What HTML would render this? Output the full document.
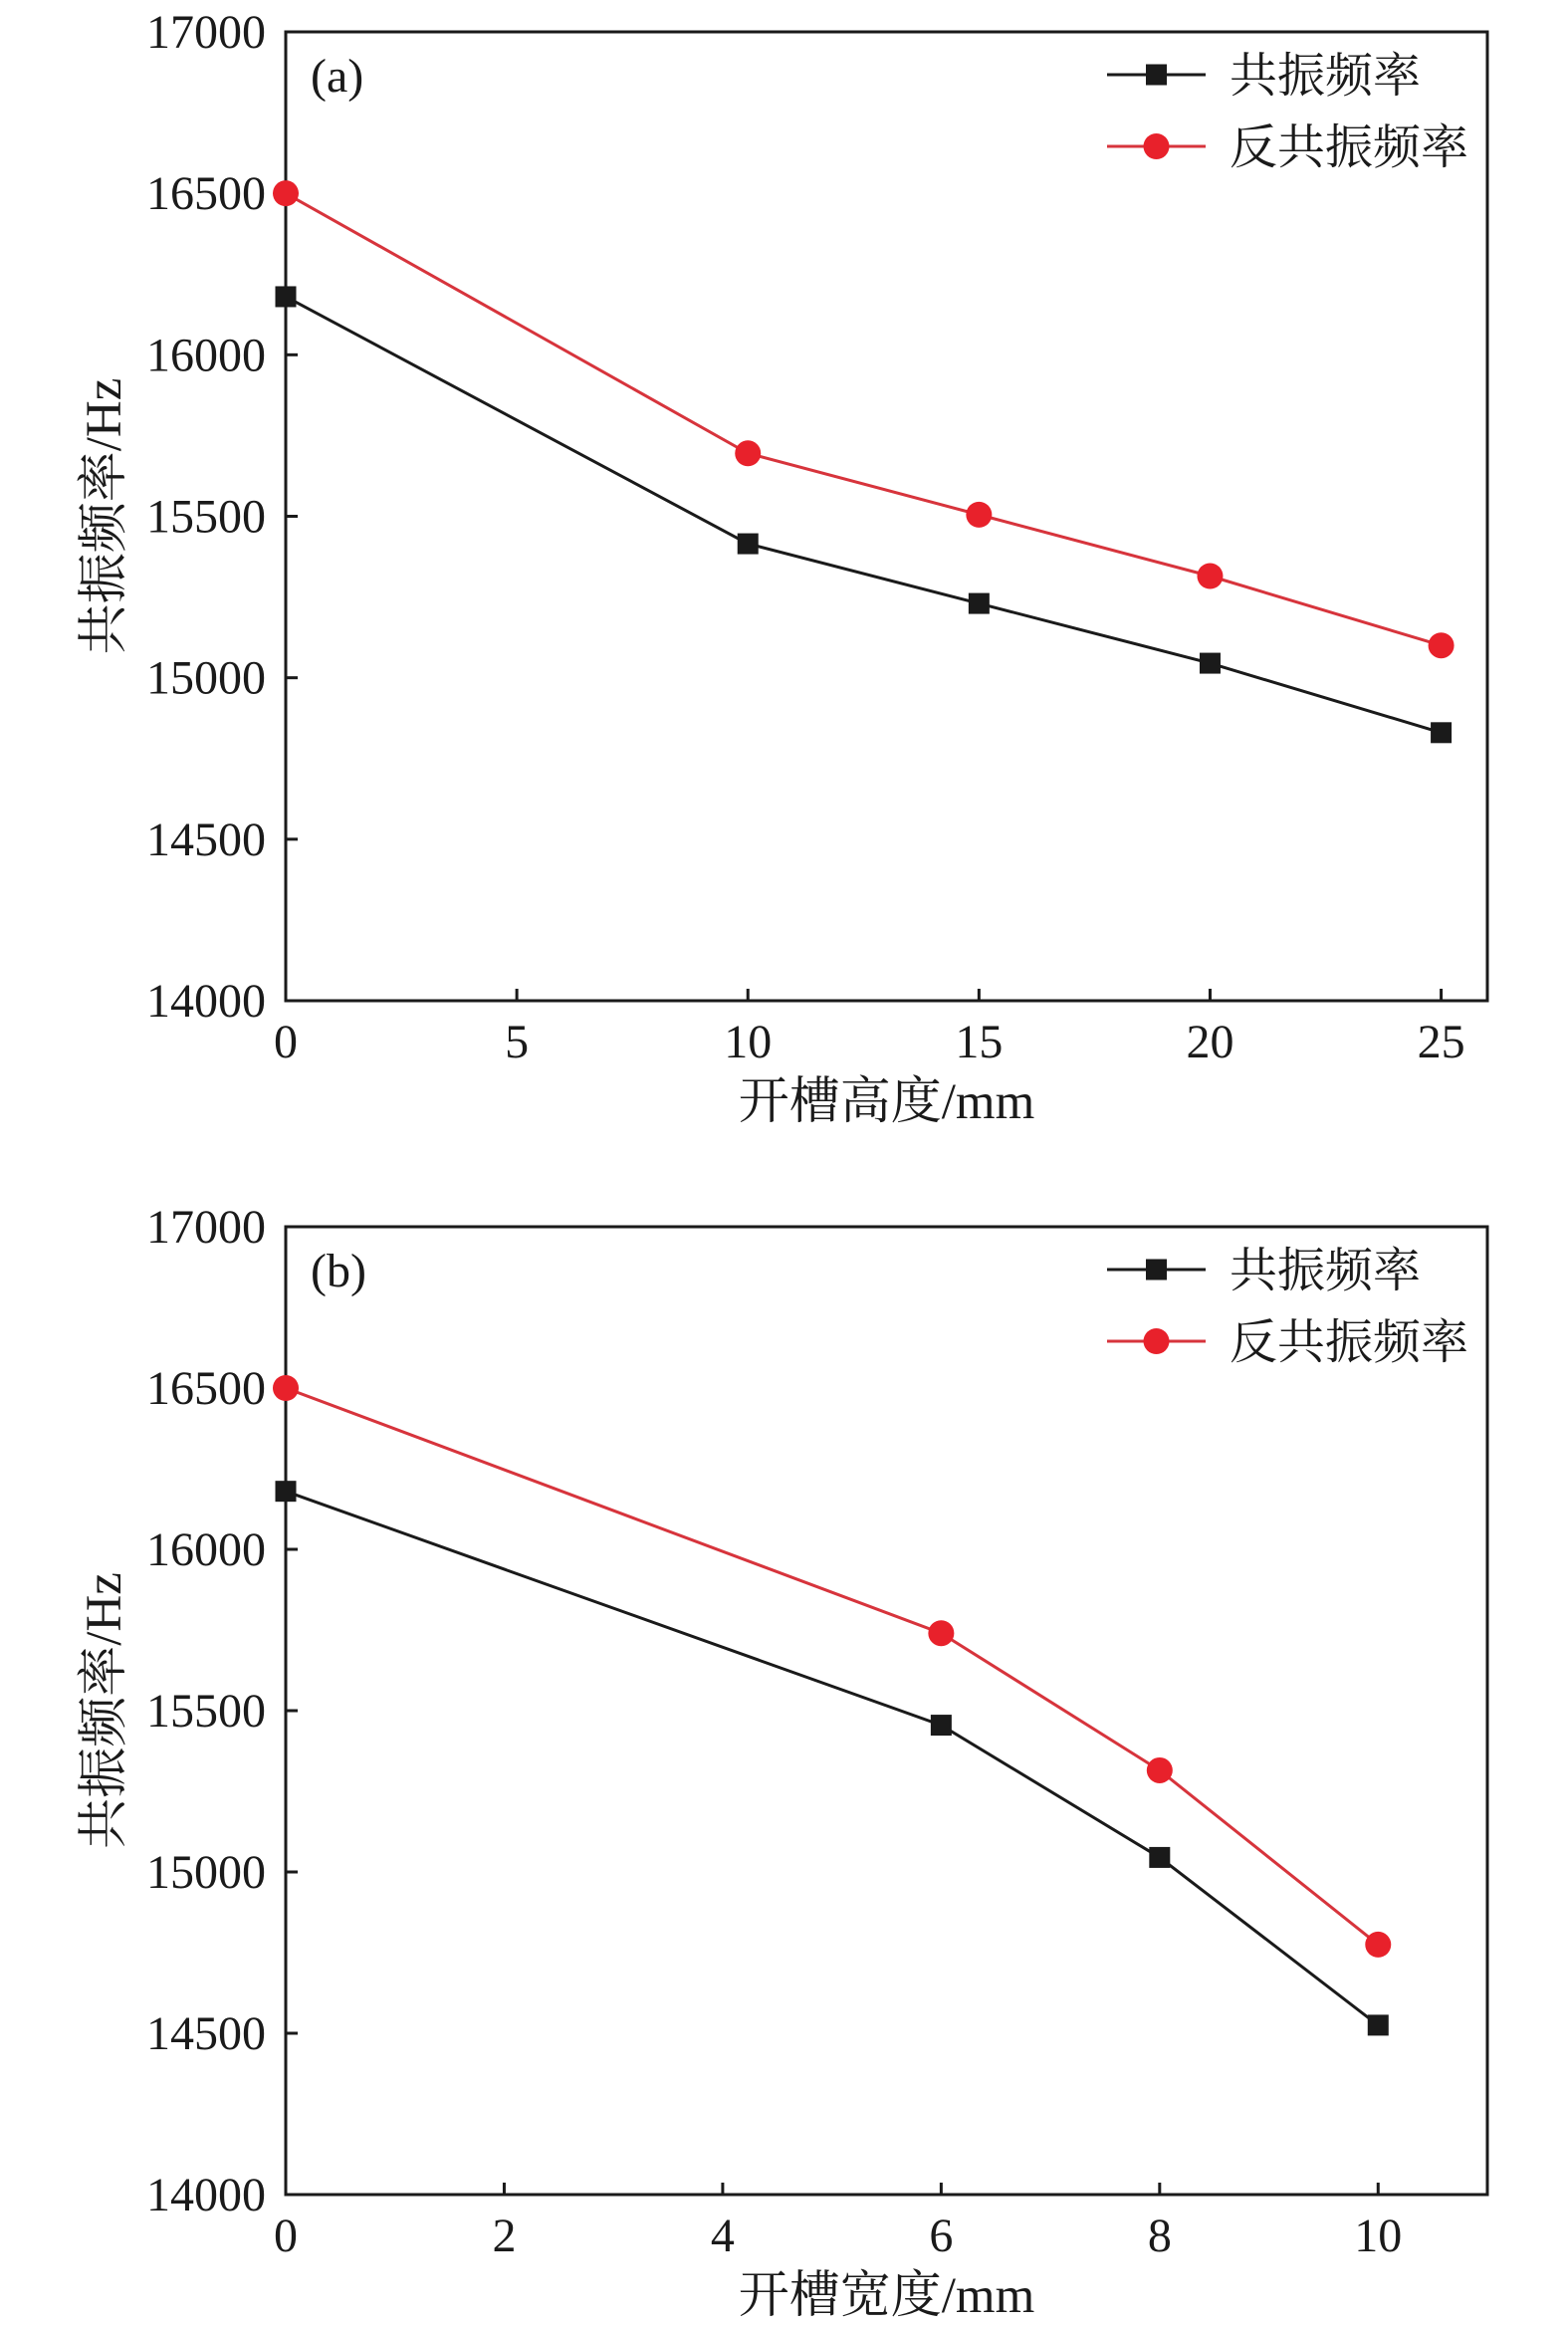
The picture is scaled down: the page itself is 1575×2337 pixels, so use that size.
<!DOCTYPE html>
<html><head><meta charset="utf-8"><style>
html,body{margin:0;padding:0;background:#fff;}
svg{display:block;}
text{font-family:"Liberation Serif","Noto Serif CJK SC",serif;fill:#1a1a1a;}
</style></head><body>
<svg id="chart" width="1575" height="2337" viewBox="0 0 1575 2337" xmlns="http://www.w3.org/2000/svg"></svg>
<script>
const yTicks = [14000,14500,15000,15500,16000,16500,17000];
const xA = [0,10,15,20,25];
const resA = [16180,15415,15230,15045,14830];
const antiA = [16500,15695,15505,15315,15100];
const xTicksA = [0,5,10,15,20,25];
const xB = [0,6,8,10];
const resB = [16180,15455,15045,14525];
const antiB = [16500,15740,15315,14775];
const xTicksB = [0,2,4,6,8,10];
const seriesNames = ["共振频率","反共振频率"];

const NS="http://www.w3.org/2000/svg";
const svg=document.getElementById('chart');
function mk(tag,attrs,parent){const e=document.createElementNS(NS,tag);for(const k in attrs)e.setAttribute(k,attrs[k]);(parent||svg).appendChild(e);return e;}

function panel(id,top,bottom,xmax,xs,s1,s2,xt,letter,xlabel){
  const L=287,R=1494,T=top,B=bottom;
  const g=mk('g',{});
  
  
  const sx=v=>L+(v/xmax)*(R-L);
  const sy=v=>B-(v-14000)/3000*(B-T);
  const frame=mk('rect',{x:L,y:T,width:R-L,height:B-T,fill:'none',stroke:'#1a1a1a','stroke-width':3},g);
  
  
  yTicks.forEach(v=>{
    const y=sy(v);
    mk('line',{x1:L,x2:L+12,y1:y,y2:y,stroke:'#1a1a1a','stroke-width':3},g);
    const t=mk('text',{x:L-20,y:y+16,'text-anchor':'end','font-size':48},g);
    t.textContent=v;
    
    
  });
  xt.forEach(v=>{
    const x=sx(v);
    mk('line',{x1:x,x2:x,y1:B,y2:B-12,stroke:'#1a1a1a','stroke-width':3},g);
    const t=mk('text',{x:x,y:B+57,'text-anchor':'middle','font-size':48},g);
    t.textContent=v;
    
    
  });
  const lt=mk('text',{x:L+25,y:T+60,'font-size':48},g);
  lt.textContent='('+letter+')';
  
  
  const xl=mk('text',{x:(L+R)/2,y:B+118,'text-anchor':'middle','font-size':51},g);
  xl.textContent=xlabel;
  
  
  const cy=(T+B)/2;
  const yl=mk('text',{x:0,y:0,'text-anchor':'middle','font-size':51,transform:`translate(121,${cy}) rotate(-90)`},g);
  yl.textContent='共振频率/Hz';
  
  
  const series=[[s1,'#1a1a1a','sq'],[s2,'#d7343c','ci']];
  series.forEach(([vals,col,m],si)=>{
    const pts=xs.map((x,i)=>sx(x)+','+sy(vals[i])).join(' ');
    const pl=mk('polyline',{points:pts,fill:'none',stroke:col,'stroke-width':3},g);
    
    
    xs.forEach((x,i)=>{
      let e;
      if(m==='sq') e=mk('rect',{x:sx(x)-10.5,y:sy(vals[i])-10.5,width:21,height:21,fill:'#1a1a1a'},g);
      else e=mk('circle',{cx:sx(x),cy:sy(vals[i]),r:13,fill:'#e8212b'},g);
      
      
    });
  });
  [[0,'#1a1a1a','sq'],[1,'#d7343c','ci']].forEach(([i,col,m])=>{
    const y=T+43+i*72;
    const lg=mk('g',{},g);
    
    
    mk('line',{x1:1112,x2:1211,y1:y,y2:y,stroke:col,'stroke-width':3},lg);
    if(m==='sq') mk('rect',{x:1151,y:y-10.5,width:21,height:21,fill:'#1a1a1a'},lg);
    else mk('circle',{cx:1161.5,cy:y,r:13,fill:'#e8212b'},lg);
    const t=mk('text',{x:1235,y:y+17,'font-size':48},lg);
    t.textContent=seriesNames[i];
  });
}
panel('a',32,1005,26,xA,resA,antiA,xTicksA,'a','开槽高度/mm');
panel('b',1232,2204,11,xB,resB,antiB,xTicksB,'b','开槽宽度/mm');
</script>
</body></html>
